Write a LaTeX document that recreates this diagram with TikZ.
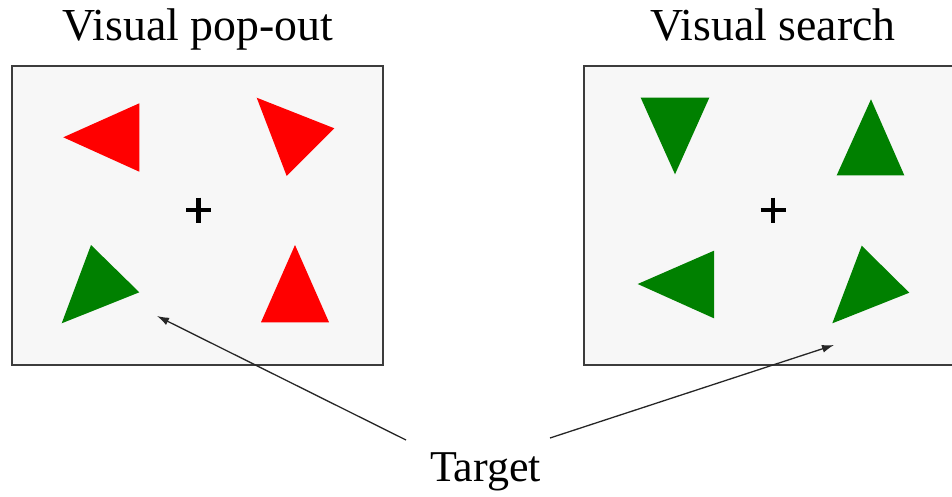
\documentclass[tikz,border=0pt]{standalone}
\usepackage{fontspec}
\setmainfont{Liberation Serif}
\usetikzlibrary{arrows.meta}
\definecolor{boxfill}{RGB}{247,247,247}
\definecolor{boxline}{RGB}{60,60,60}
\definecolor{tred}{RGB}{255,0,0}
\definecolor{tgreen}{RGB}{0,128,0}
\tikzset{
  panel/.style={fill=boxfill, draw=boxline, line width=2pt},
  redtri/.style={fill=tred},
  greentri/.style={fill=tgreen},
  fixcross/.style={line width=4.2pt, black},
  title/.style={font=\fontsize{45.8}{50}\selectfont, anchor=base, inner sep=0pt},
  pointer/.style={line width=1.3pt, draw=black!85, -{Latex[length=12pt,width=8pt]}}
}
\begin{document}
\begin{tikzpicture}[x=1pt,y=-1pt]
\useasboundingbox (0,0) rectangle (952,496);
% panels
\draw[panel] (12,66) rectangle (383,365);
\draw[panel] (584,66) rectangle (980,365);
% titles
\node[title] (t1) at (198,40) {Visual pop-out};
\node[title] (t2) at (773,40) {Visual search};
% left panel triangles
\fill[redtri] (63.3,137.3) -- (139.3,103.3) -- (139.3,171.7) -- cycle;
\fill[redtri] (256.7,97.7) -- (334.3,128.3) -- (286.7,176) -- cycle;
\fill[greentri] (91,245) -- (139.3,292.3) -- (61.7,323.3) -- cycle;
\fill[redtri] (295,245) -- (329,322.3) -- (261,322.3) -- cycle;
% right panel triangles
\fill[greentri] (640.7,97.7) -- (709.3,97.7) -- (675,174.3) -- cycle;
\fill[greentri] (871,99.3) -- (904.3,175.3) -- (836.7,175.3) -- cycle;
\fill[greentri] (637.7,284) -- (714,250.7) -- (714,318.3) -- cycle;
\fill[greentri] (861.7,245.7) -- (909.3,292.7) -- (832.3,323.3) -- cycle;
% fixation crosses
\draw[fixcross] (186,210) -- (211,210) (198.5,197.5) -- (198.5,222.5);
\draw[fixcross] (760.5,210) -- (785.5,210) (773,197.5) -- (773,222.5);
% target label and arrows
\node[font=\fontsize{44}{48}\selectfont, anchor=base, inner sep=0pt] (tg) at (485.5,481) {Target};
\coordinate (sL) at (406,440);
\coordinate (sR) at (550,438);
\coordinate (eL) at (157,316);
\coordinate (eR) at (834,345);
\draw[pointer] (sL) -- (eL);
\draw[pointer] (sR) -- (eR);
\end{tikzpicture}
\end{document}
